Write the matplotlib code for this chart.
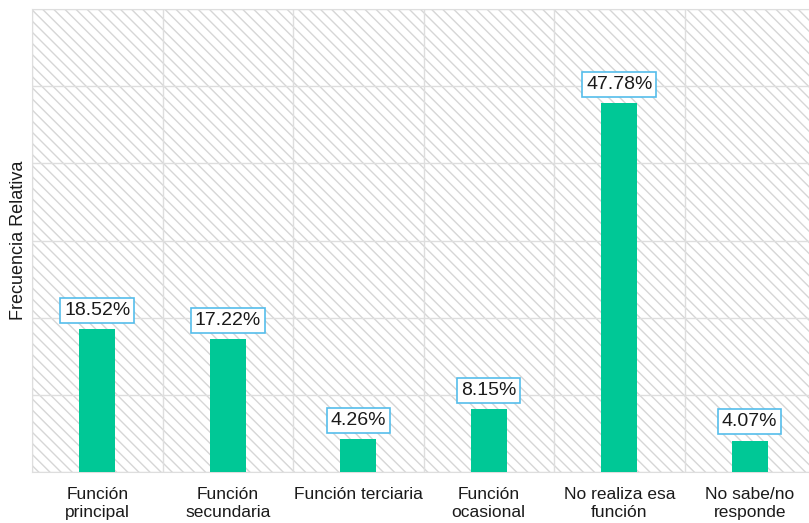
import matplotlib.pyplot as plt
from matplotlib.patches import Rectangle

plt.rcParams['font.family'] = ['Liberation Sans', 'DejaVu Sans']
plt.rcParams['hatch.linewidth'] = 1.0

# datos
categorias = ['Función\nprincipal', 'Función\nsecundaria', 'Función terciaria',
              'Función\nocasional', 'No realiza esa\nfunción', 'No sabe/no\nresponde']
valores = [18.52, 17.22, 4.26, 8.15, 47.78, 4.07]
etiquetas = ['18.52%', '17.22%', '4.26%', '8.15%', '47.78%', '4.07%']

fig = plt.figure(figsize=(8.09, 5.23), dpi=100)
ax = fig.add_axes([32 / 809, 1 - 472 / 523, 783 / 809, 463 / 523])

# fondo rayado
ax.add_patch(Rectangle((0, 0), 1, 1, transform=ax.transAxes, facecolor='white',
                       edgecolor='#d6d6d6', linewidth=0, hatch='\\\\\\', zorder=0))

x = range(len(categorias))
ax.bar(x, valores, width=0.275, color='#00C896', zorder=3)

for i, v in enumerate(valores):
    ax.annotate(etiquetas[i], xy=(i, v), xytext=(0, 13.5), textcoords='offset points',
                ha='center', va='center', fontsize=14, color='#1a1a1a', zorder=4,
                bbox=dict(boxstyle='square,pad=0.2', fc='white', ec='#55BDEB', lw=1.2))

ax.set_xlim(-0.5, 5.5)
ax.set_ylim(0, 60)
ax.set_yticks(range(0, 61, 10))
ax.set_yticklabels([])
ax.set_xticks([i + 0.5 for i in range(-1, 6)], minor=False)
ax.set_xticklabels([])
ax.set_xticks(list(x), minor=True)
ax.set_xticklabels(categorias, minor=True, fontsize=12.5, color='#1a1a1a')
ax.tick_params(axis='both', which='both', length=0)
ax.tick_params(axis='x', which='minor', pad=11)
ax.grid(True, which='major', color='#dedede', linewidth=1, zorder=1)

for s in ax.spines.values():
    s.set_color('#dedede')
ax.spines['right'].set_visible(False)

ax.set_ylabel('Frecuencia Relativa', fontsize=13, color='#1a1a1a', labelpad=0)

plt.savefig('out.png', dpi=100)
